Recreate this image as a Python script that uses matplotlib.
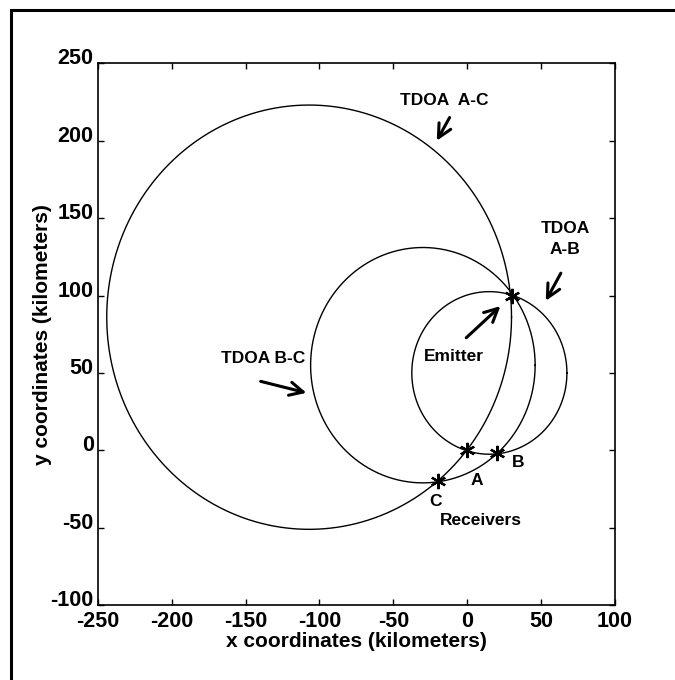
import numpy as np
import matplotlib
matplotlib.use("Agg")
import matplotlib.pyplot as plt
import matplotlib.transforms as mtransforms
from matplotlib.patches import Rectangle

plt.rcParams['font.family'] = ['Liberation Sans', 'DejaVu Sans']
plt.rcParams['font.weight'] = 'bold'
plt.rcParams['axes.unicode_minus'] = False

# TDOA circles: centre x, centre y, radius (km)
circle_names = ['TDOA A-C', 'TDOA B-C', 'TDOA A-B']
circle_cx = [-107, -30, 15]
circle_cy = [86, 55, 50]
circle_r = [137, 76, 52.5]

# emitter and receivers
point_names = ['Emitter', 'A', 'B', 'C']
point_x = [30, 0, 20, -20]
point_y = [100, 0, -2, -20]

xticks = [-250, -200, -150, -100, -50, 0, 50, 100]
yticks = [-100, -50, 0, 50, 100, 150, 200, 250]

fig = plt.figure(figsize=(6.75, 6.8), dpi=100)
ax = fig.add_axes([0.145, 0.110, 0.766, 0.797])

t = np.linspace(0, 2 * np.pi, 400)
for cx, cy, r in zip(circle_cx, circle_cy, circle_r):
    ax.plot(cx + r * np.cos(t), cy + r * np.sin(t), color='black', lw=1.0)

ax.plot(point_x, point_y, marker=(6, 2, 0), ls='none', color='black', ms=11, mew=1.6)

ax.set_xlim(-250, 100)
ax.set_ylim(-100, 250)
ax.set_xticks(xticks)
ax.set_yticks(yticks)
ax.tick_params(direction='in', length=4, top=True, right=True,
               labelsize=15.5, width=1, pad=4)
ax.tick_params(axis='y', pad=3)
# y tick labels sit a little above their ticks, as in the original
shift = mtransforms.ScaledTranslation(0, 7 / 100, fig.dpi_scale_trans)
for lab in ax.get_yticklabels():
    lab.set_transform(lab.get_transform() + shift)
for lab in ax.get_xticklabels() + ax.get_yticklabels():
    lab.set_fontweight('bold')
for s in ax.spines.values():
    s.set_linewidth(1.2)

ax.set_xlabel('x coordinates (kilometers)', fontsize=15, fontweight='bold', labelpad=0)
ax.set_ylabel('y coordinates (kilometers)', fontsize=15, fontweight='bold', labelpad=-1)

arrow = dict(arrowstyle='->', lw=2.2, color='black', mutation_scale=24)
tkw = dict(fontsize=12.5, fontweight='bold', ha='center', va='center')

ax.text(-15.7, 226, 'TDOA  A-C', **tkw)
ax.annotate('', xy=(-21.5, 198.4), xytext=(-11, 216.5), arrowprops=arrow)
ax.text(66.3, 136.5, 'TDOA\nA-B', linespacing=1.5, **tkw)
ax.annotate('', xy=(52.3, 95), xytext=(64.3, 116), arrowprops=arrow)
ax.text(-138, 59, 'TDOA B-C', **tkw)
ax.annotate('', xy=(-107, 36.7), xytext=(-141.6, 45), arrowprops=arrow)
ax.text(-8.8, 60.4, 'Emitter', **tkw)
ax.annotate('', xy=(23.9, 94.4), xytext=(-2, 71.5), arrowprops=arrow)
ax.text(6.7, -19.7, 'A', **tkw)
ax.text(34.5, -8, 'B', **tkw)
ax.text(-21.5, -33, 'C', **tkw)
ax.text(9.2, -45.6, 'Receivers', **tkw)

# outer frame (only top and left edges are inside the picture)
fig.patches.append(Rectangle((11 / 675, -0.05), 1.2, 1 - 10 / 680 + 0.05,
                             transform=fig.transFigure, fill=False,
                             lw=2.2, ec='black'))

fig.savefig('out.png', dpi=100, facecolor='white')
